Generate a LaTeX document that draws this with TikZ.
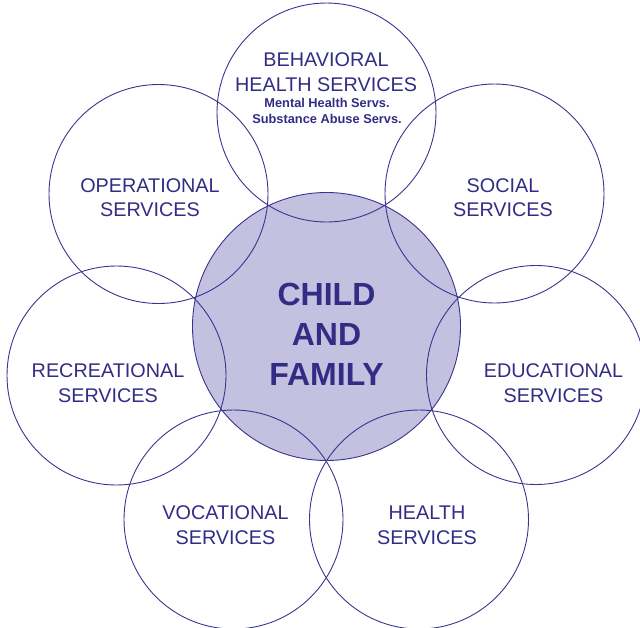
\documentclass[tikz,border=0pt]{standalone}
\usepackage{fontspec}
\setmainfont{Liberation Sans}
\definecolor{ink}{RGB}{50,44,133}
\definecolor{rim}{RGB}{58,52,145}
\definecolor{core}{RGB}{196,192,224}
\begin{document}
\begin{tikzpicture}[x=1pt,y=-1pt,
  ring/.style={circle,draw=rim,line width=0.9pt,minimum size=219pt,inner sep=0pt},
  hub/.style={circle,draw=rim,fill=core,line width=0.9pt,minimum size=268pt,inner sep=0pt},
  svc/.style={text=ink,align=center,inner sep=0pt,anchor=base,
    font=\fontsize{19.8}{24.5}\selectfont},
  sub/.style={text=ink,align=center,inner sep=0pt,anchor=base,
    font=\bfseries\fontsize{12.8}{16}\selectfont},
  big/.style={text=ink,align=center,inner sep=0pt,anchor=base,
    font=\bfseries\fontsize{32}{40}\selectfont}]
\useasboundingbox (0,0) rectangle (640,627);
\clip (0,0) rectangle (640,627);
% central circle
\node[hub] (hub) at (326.5,326.5) {};
% seven surrounding circles
\node[ring] (beh) at (326.5,112.5) {};
\node[ring] (soc) at (494.5,193.5) {};
\node[ring] (edu) at (536,375) {};
\node[ring] (hea) at (419,519.5) {};
\node[ring] (voc) at (233.5,519.5) {};
\node[ring] (rec) at (116.5,375.5) {};
\node[ring] (ops) at (158.5,194) {};
% labels (anchored at the baseline of their last line)
\node[svc] (behT) at (326,91) {BEHAVIORAL\\HEALTH SERVICES};
\node[sub] (behS) at (327,123) {Mental Health Servs.\\Substance Abuse Servs.};
\node[svc] (socT) at (503,216.5) {SOCIAL\\SERVICES};
\node[svc] (eduT) at (553.5,402) {EDUCATIONAL\\SERVICES};
\node[svc] (heaT) at (427,544) {HEALTH\\SERVICES};
\node[svc] (vocT) at (225.5,544) {VOCATIONAL\\SERVICES};
\node[svc] (recT) at (108,402) {RECREATIONAL\\SERVICES};
\node[svc] (opsT) at (150,216.5) {OPERATIONAL\\SERVICES};
\node[big] (hubT) at (326.5,385) {CHILD\\AND\\FAMILY};
\end{tikzpicture}
\end{document}
